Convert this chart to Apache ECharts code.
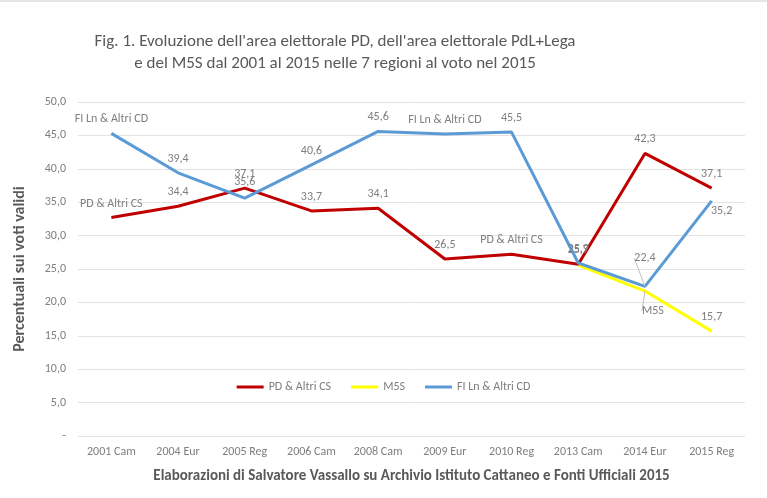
<!DOCTYPE html>
<html>
<head>
<meta charset="utf-8">
<script src="https://cdn.jsdelivr.net/npm/echarts@6/dist/echarts.min.js"></script>
<style>
  html, body { margin: 0; padding: 0; background: #fff; }
  #chart { width: 767px; height: 498px; border-top: 2px solid #e6e6e6; box-sizing: border-box; }
</style>
</head>
<body>
<div id="chart"></div>
<script>
const CATEGORIES = ['2001 Cam', '2004 Eur', '2005 Reg', '2006 Cam', '2008 Cam', '2009 Eur', '2010 Reg', '2013 Cam', '2014 Eur', '2015 Reg']
const PD_VALUES = [32.7, 34.4, 37.1, 33.7, 34.1, 26.5, 27.2, 25.7, 42.3, 37.1]
const M5S_VALUES = [null, null, null, null, null, null, null, 25.6, 21.7, 15.7]
const FI_VALUES = [45.3, 39.4, 35.6, 40.6, 45.6, 45.2, 45.5, 25.9, 22.4, 35.2]
const SERIES_NAMES = ['PD & Altri CS', 'M5S', 'FI Ln & Altri CD']
const Y_TICKS = [0, 5, 10, 15, 20, 25, 30, 35, 40, 45, 50]

const FONT = 'Carlito, "Liberation Sans Narrow", "Open Sans", sans-serif'
const fmt = (v) => v.toFixed(1).replace('.', ',')

// labels that show the series name instead of the value
const NAME_LABELS = { 0: [0, 6], 2: [0, 5] }
// points whose label is pulled away and gets a leader line
const LEADER_POINTS = { 1: [8], 2: [8] }

function labelText(seriesIdx) {
  return (p) => {
    if (p.value == null) return ''
    if ((NAME_LABELS[seriesIdx] || []).includes(p.dataIndex)) return SERIES_NAMES[seriesIdx]
    if (seriesIdx === 1 && p.dataIndex === 7) return ''
    if (seriesIdx === 1 && p.dataIndex === 8) return 'M5S'
    return fmt(p.value)
  }
}

function withLeaders(values, seriesIdx) {
  return values.map((v, i) =>
    (LEADER_POINTS[seriesIdx] || []).includes(i) ? { value: v, labelLine: { show: true } } : v
  )
}

const chart = echarts.init(document.getElementById('chart'))

const baseLabel = { show: true, color: '#7f7f7f', fontSize: 12, fontFamily: FONT, position: 'top', distance: 8 }
const leaderStyle = { show: false, lineStyle: { color: '#bfbfbf', width: 1 } }

chart.setOption({
  animation: false,
  textStyle: { fontFamily: FONT },
  title: {
    text: "Fig. 1. Evoluzione dell'area elettorale PD, dell'area elettorale PdL+Lega\ne del M5S dal 2001 al 2015 nelle 7 regioni al voto nel 2015",
    left: 330,
    textAlign: 'center',
    top: 24,
    textStyle: { color: '#595959', fontSize: 17, fontWeight: 'normal', lineHeight: 22, fontFamily: FONT },
  },
  legend: {
    top: 374,
    left: 'center',
    icon: 'rect',
    itemWidth: 27,
    itemHeight: 3,
    itemGap: 20,
    data: SERIES_NAMES,
    textStyle: { color: '#7f7f7f', fontSize: 12, fontFamily: FONT },
  },
  grid: { left: 78, right: 22, top: 100, bottom: 62 },
  xAxis: {
    type: 'category',
    data: CATEGORIES,
    boundaryGap: true,
    axisLine: { show: false },
    axisTick: { show: false },
    axisLabel: { color: '#7f7f7f', fontSize: 12, margin: 10, fontFamily: FONT },
    name: 'Elaborazioni di Salvatore Vassallo su Archivio Istituto Cattaneo e Fonti Ufficiali 2015',
    nameLocation: 'middle',
    nameGap: 33,
    nameTextStyle: { color: '#595959', fontSize: 15, fontWeight: 'bold', fontFamily: FONT },
  },
  yAxis: {
    type: 'value',
    min: Y_TICKS[0],
    max: Y_TICKS[Y_TICKS.length - 1],
    interval: 5,
    axisLine: { show: false },
    axisTick: { show: false },
    splitLine: { lineStyle: { color: '#e3e3e3', width: 1 } },
    axisLabel: { color: '#7f7f7f', fontSize: 12, margin: 12, fontFamily: FONT, formatter: (v) => (v === 0 ? '-' : fmt(v)) },
    name: 'Percentuali sui voti validi',
    nameLocation: 'middle',
    nameGap: 50,
    nameTextStyle: { color: '#595959', fontSize: 16, fontWeight: 'bold', fontFamily: FONT },
  },
  series: [
    {
      name: SERIES_NAMES[0],
      type: 'line',
      data: PD_VALUES,
      symbol: 'circle',
      symbolSize: 0,
      showSymbol: true,
      z: 3,
      lineStyle: { color: '#c00000', width: 3 },
      itemStyle: { color: '#c00000' },
      label: { ...baseLabel, formatter: labelText(0) },
    },
    {
      name: SERIES_NAMES[1],
      type: 'line',
      data: withLeaders(M5S_VALUES, 1),
      symbol: 'circle',
      symbolSize: 0,
      showSymbol: true,
      z: 2,
      lineStyle: { color: '#ffff00', width: 3 },
      itemStyle: { color: '#ffff00' },
      label: { ...baseLabel, formatter: labelText(1) },
      labelLine: leaderStyle,
      labelLayout: (p) => (p.dataIndex === 8 ? { dx: 8, dy: 34 } : {}),
    },
    {
      name: SERIES_NAMES[2],
      type: 'line',
      data: withLeaders(FI_VALUES, 2),
      symbol: 'circle',
      symbolSize: 0,
      showSymbol: true,
      z: 4,
      lineStyle: { color: '#5b9bd5', width: 3 },
      itemStyle: { color: '#5b9bd5' },
      label: { ...baseLabel, formatter: labelText(2) },
      labelLine: leaderStyle,
      labelLayout: (p) => {
        if (p.dataIndex === 2) return { dy: -2 }
        if (p.dataIndex === 8) return { dy: -14 }
        if (p.dataIndex === 9) return { dx: 10, dy: 24 }
        return {}
      },
    },
  ],
})
</script>
</body>
</html>
